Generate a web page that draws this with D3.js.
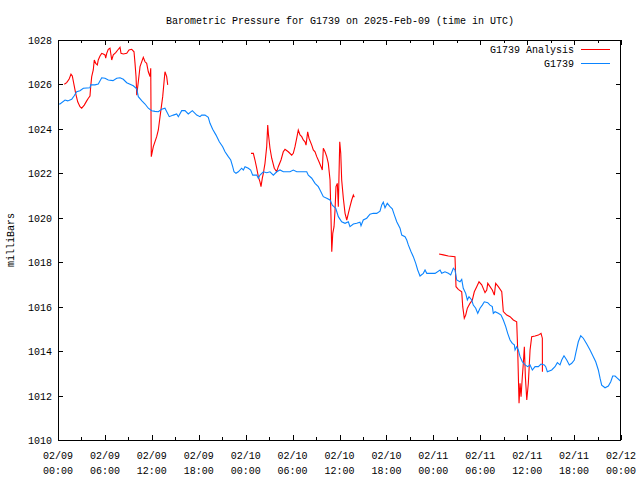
<!DOCTYPE html>
<html>
<head>
<meta charset="utf-8">
<script src="https://cdn.jsdelivr.net/npm/d3@7/dist/d3.min.js"></script>
<style>
  html, body { margin: 0; padding: 0; background: #fff; }
  svg text { font-family: "Liberation Mono", "DejaVu Sans Mono", monospace; font-size: 10px; fill: #000; }
</style>
</head>
<body>
<svg id="chart" width="640" height="480"></svg>
<script>
// ---- DATA (hours since 2025-02-09 00:00 UTC, pressure in mb) ----
const stationHours = [0,0.26,0.90,1.24,1.75,2.05,2.39,2.81,3.24,4.09,4.18,4.73,5.15,5.59,6.01,6.43,7.03,7.51,7.93,8.35,8.79,9.21,9.63,10.07,10.27,10.70,11.13,11.55,11.98,12.41,12.83,13.26,13.68,14.23,14.75,15.18,15.39,15.82,16.24,16.66,17.18,17.74,18.16,18.38,18.80,19.22,19.44,19.78,20.21,20.63,21.06,21.36,21.78,22.09,22.34,22.51,22.76,23.06,23.49,23.70,23.92,24.34,24.64,24.90,25.41,25.62,25.83,26.26,26.69,27.11,27.54,27.97,28.39,28.81,29.25,29.67,30.09,30.53,30.95,31.37,31.81,32.01,32.45,32.87,33.29,33.51,33.93,34.37,34.79,35.08,35.52,35.85,36.28,36.71,37.13,37.34,37.77,38.20,38.62,38.75,39.04,39.48,39.90,40.32,40.76,41.18,41.40,41.60,41.82,42.11,42.46,42.75,43.01,43.32,43.74,43.96,44.38,44.60,44.80,45.15,45.44,45.75,46.00,46.30,46.72,46.94,47.16,48.22,48.86,49.07,49.49,49.92,50.22,50.56,50.77,50.99,51.41,51.63,51.83,52.14,52.35,52.56,52.91,53.11,53.42,53.68,53.97,54.26,54.52,54.96,55.25,55.54,55.67,55.89,56.31,56.66,56.95,57.26,57.51,57.81,58.10,58.36,58.45,58.66,58.87,59.09,59.38,59.73,60.07,60.36,60.66,61.01,61.43,61.77,62.19,62.37,62.58,63.14,63.56,63.86,64.20,64.42,64.71,65.06,65.39,65.70,66.03,66.25,66.54,66.85,67.18,67.62,68.04,68.46,68.77,69.10,69.32,69.53,69.96,70.38,70.69,70.94,71.24,71.53,71.88,72.0];
const stationPressure = [1025.12,1025.12,1025.30,1025.26,1025.33,1025.48,1025.67,1025.72,1025.83,1025.85,1025.98,1025.98,1026.02,1026.30,1026.28,1026.20,1026.17,1026.28,1026.30,1026.23,1026.08,1026.01,1025.94,1025.80,1025.45,1025.27,1025.12,1024.93,1024.82,1024.79,1024.77,1024.88,1024.93,1024.55,1024.62,1024.67,1024.55,1024.82,1024.82,1024.67,1024.82,1024.62,1024.55,1024.62,1024.62,1024.52,1024.25,1023.98,1023.72,1023.42,1023.20,1022.97,1022.75,1022.60,1022.30,1022.07,1022.00,1022.07,1022.23,1022.15,1022.30,1022.23,1022.15,1021.92,1021.92,1021.78,1021.92,1022.07,1022.03,1022.07,1021.92,1022.07,1022.15,1022.07,1022.07,1022.07,1022.15,1022.07,1022.07,1022.07,1022.07,1021.92,1021.78,1021.55,1021.40,1021.25,1020.95,1020.88,1020.80,1020.57,1020.43,1020.05,1019.82,1019.75,1019.82,1019.60,1019.72,1019.75,1019.80,1019.64,1019.90,1019.98,1020.16,1020.20,1020.20,1020.30,1020.58,1020.70,1020.45,1020.65,1020.50,1020.40,1020.13,1019.82,1019.53,1019.22,1019.15,1019.00,1018.78,1018.47,1018.25,1017.95,1017.65,1017.38,1017.50,1017.65,1017.50,1017.50,1017.65,1017.50,1017.57,1017.50,1017.43,1017.73,1017.65,1017.20,1017.12,1017.23,1016.83,1016.60,1016.30,1016.45,1016.30,1016.07,1015.93,1015.70,1015.93,1016.07,1016.22,1016.18,1016.07,1016.00,1015.70,1015.77,1015.70,1015.62,1015.40,1015.10,1014.80,1014.50,1014.35,1014.28,1014.05,1014.20,1014.05,1013.75,1013.52,1013.38,1013.30,1013.38,1013.15,1013.30,1013.30,1013.42,1013.38,1013.30,1013.07,1013.15,1013.30,1013.48,1013.38,1013.60,1013.79,1013.60,1013.38,1013.45,1013.60,1013.97,1014.42,1014.69,1014.58,1014.32,1014.05,1013.75,1013.52,1013.15,1012.78,1012.47,1012.35,1012.43,1012.62,1012.88,1012.88,1012.78,1012.67,1012.65];

// Analysis series: null marks a gap between segments
const analysisHours = [0.81,1.11,1.41,1.66,1.83,2.05,2.26,2.52,2.81,3.03,3.36,3.67,3.88,4.09,4.18,4.31,4.51,4.64,4.82,5.03,5.15,5.37,5.59,5.79,6.01,6.10,6.23,6.43,6.65,6.87,7.07,7.38,7.64,7.93,8.06,8.35,8.79,9.08,9.43,9.72,9.85,9.98,10.07,10.27,10.49,10.91,11.13,11.34,11.55,11.77,11.86,11.93,12.19,12.62,12.83,13.05,13.39,13.68,13.90,14.03,
  null,
  24.68,24.98,25.19,25.41,25.62,25.83,25.96,26.13,26.26,26.47,26.69,26.82,26.90,27.11,27.33,27.66,27.97,28.17,28.52,28.81,29.03,29.45,29.89,30.09,30.31,30.53,30.73,30.95,31.17,31.37,31.59,31.72,31.93,32.10,32.45,32.65,32.87,33.09,33.38,33.64,33.80,33.93,34.15,34.37,34.57,34.79,34.92,35.01,35.14,35.30,35.43,35.55,35.72,35.85,36.03,36.16,36.28,36.49,36.71,36.93,37.13,37.34,37.56,37.77,37.89,
  null,
  48.73,49.28,49.92,50.77,50.90,51.19,51.63,51.76,51.96,52.14,52.35,52.69,52.99,53.24,53.55,53.84,54.19,54.61,54.83,54.96,55.25,55.54,55.80,55.97,56.31,56.75,56.95,57.39,57.81,58.23,58.66,58.79,58.96,59.09,59.22,59.38,59.51,59.64,59.77,59.95,60.15,60.37,60.58,61.01,61.43,61.77,61.94,61.95];
const analysisPressure = [1026.01,1026.08,1026.23,1026.46,1026.38,1025.98,1025.60,1025.22,1025.00,1024.93,1025.07,1025.26,1025.38,1025.48,1025.90,1026.35,1026.65,1027.10,1026.95,1026.88,1027.10,1027.28,1027.40,1027.37,1027.33,1027.18,1027.40,1027.58,1027.63,1027.10,1027.33,1027.43,1027.55,1027.67,1027.40,1027.37,1027.40,1027.55,1027.58,1027.47,1026.95,1026.35,1025.52,1026.12,1026.80,1027.22,1027.02,1026.95,1026.57,1026.35,1026.73,1022.75,1023.20,1023.65,1023.95,1024.55,1025.45,1026.57,1026.35,1025.98,
  null,
  1022.90,1022.90,1022.60,1022.23,1021.85,1021.62,1021.40,1021.78,1022.00,1022.45,1023.20,1024.17,1023.80,1023.13,1022.68,1022.23,1022.07,1022.30,1022.60,1022.97,1023.08,1022.97,1022.82,1022.90,1023.20,1023.58,1023.95,1023.73,1023.65,1023.50,1023.42,1023.27,1023.87,1023.58,1023.27,1023.05,1022.97,1022.75,1022.52,1022.30,1022.15,1023.13,1022.97,1022.75,1022.45,1021.70,1019.90,1018.47,1019.30,1019.60,1020.35,1021.40,1021.55,1020.50,1023.42,1022.90,1021.70,1020.88,1020.20,1019.90,1020.20,1020.50,1020.80,1021.02,1020.92,
  null,
  1018.37,1018.33,1018.28,1018.25,1016.90,1016.78,1016.67,1016.00,1015.48,1015.62,1015.93,1016.15,1016.30,1016.67,1016.90,1017.12,1016.98,1016.63,1016.75,1017.05,1016.90,1016.75,1016.52,1017.05,1016.90,1016.67,1015.78,1015.62,1015.55,1015.40,1015.32,1014.05,1011.65,1012.55,1011.95,1012.85,1013.45,1014.20,1012.85,1011.80,1012.55,1014.05,1014.65,1014.68,1014.72,1014.80,1014.58,1013.07];

const yTicks = [1010,1012,1014,1016,1018,1020,1022,1024,1026,1028];
const xTickHours = [0,6,12,18,24,30,36,42,48,54,60,66,72];
const xMinorHours = [3,9,15,21,27,33,39,45,51,57,63,69];
const seriesNames = ["G1739 Analysis", "G1739"];
const seriesColors = ["#ff0000", "#0a84ff"];
const titleText = "Barometric Pressure for G1739 on 2025-Feb-09 (time in UTC)";
const yLabelText = "milliBars";

// ---- CHART ----
const t0 = Date.UTC(2025, 1, 9, 0, 0, 0);
const toDate = h => new Date(t0 + h * 3600e3);

const margin = {left: 58, right: 19, top: 40, bottom: 40};
const W = 640, H = 480;
const svg = d3.select("#chart");

const x = d3.scaleUtc().domain([toDate(0), toDate(72)]).range([margin.left, W - margin.right]);
const y = d3.scaleLinear().domain([1010, 1028]).range([H - margin.bottom, margin.top]);

const px0 = margin.left, px1 = W - margin.right, py0 = margin.top, py1 = H - margin.bottom;

// clip
svg.append("defs").append("clipPath").attr("id", "clip")
  .append("rect").attr("x", px0).attr("y", py0).attr("width", px1 - px0).attr("height", py1 - py0);

// ticks (inward, mirrored on all sides)
const tickG = svg.append("g").attr("stroke", "#000").attr("stroke-width", 1).attr("shape-rendering", "crispEdges");
const majorLen = 5, minorLen = 3;
xTickHours.forEach(h => {
  const xx = Math.round(x(toDate(h))) + 0.5;
  tickG.append("line").attr("x1", xx).attr("x2", xx).attr("y1", py1).attr("y2", py1 - majorLen);
  tickG.append("line").attr("x1", xx).attr("x2", xx).attr("y1", py0).attr("y2", py0 + majorLen);
});
xMinorHours.forEach(h => {
  const xx = Math.round(x(toDate(h))) + 0.5;
  tickG.append("line").attr("x1", xx).attr("x2", xx).attr("y1", py1).attr("y2", py1 - minorLen);
  tickG.append("line").attr("x1", xx).attr("x2", xx).attr("y1", py0).attr("y2", py0 + minorLen);
});
yTicks.forEach(v => {
  const yy = Math.round(y(v)) + 0.5;
  tickG.append("line").attr("x1", px0).attr("x2", px0 + majorLen).attr("y1", yy).attr("y2", yy);
  tickG.append("line").attr("x1", px1).attr("x2", px1 - majorLen).attr("y1", yy).attr("y2", yy);
});

// y tick labels
svg.append("g").selectAll("text").data(yTicks).join("text")
  .attr("x", px0 - 6).attr("y", d => y(d) + 4).attr("text-anchor", "end").text(d => d);

// x tick labels (two lines)
const fmtDay = d3.utcFormat("%m/%d"), fmtTime = d3.utcFormat("%H:%M");
const xl = svg.append("g").selectAll("text").data(xTickHours).join("text")
  .attr("text-anchor", "middle");
xl.append("tspan").attr("x", d => x(toDate(d))).attr("y", py1 + 19).text(d => fmtDay(toDate(d)));
xl.append("tspan").attr("x", d => x(toDate(d))).attr("y", py1 + 34).text(d => fmtTime(toDate(d)));

// title and y label
svg.append("text").attr("x", (px0 + px1) / 2 + 0.5).attr("y", 24).attr("text-anchor", "middle").text(titleText);
svg.append("text").attr("transform", `translate(14,240) rotate(-90)`).attr("text-anchor", "middle").text(yLabelText);

// lines
const stationData = stationHours.map((h, i) => ({t: toDate(h), v: stationPressure[i]}));
const analysisData = analysisHours.map((h, i) => ({t: h == null ? null : toDate(h), v: analysisPressure[i]}));
const line = d3.line().defined(d => d.v != null && d.t != null).x(d => x(d.t)).y(d => y(d.v));

const plot = svg.append("g").attr("clip-path", "url(#clip)");
plot.append("path").datum(analysisData).attr("d", line)
  .attr("fill", "none").attr("stroke", seriesColors[0]).attr("stroke-width", 1.1);
plot.append("path").datum(stationData).attr("d", line)
  .attr("fill", "none").attr("stroke", seriesColors[1]).attr("stroke-width", 1.1);

// frame
svg.append("rect").attr("x", px0 + 0.5).attr("y", py0 + 0.5).attr("width", px1 - px0 - 1).attr("height", py1 - py0)
  .attr("fill", "none").attr("stroke", "#000").attr("shape-rendering", "crispEdges");

// legend
const leg = svg.append("g");
seriesNames.forEach((name, i) => {
  const ly = 49 + i * 14;
  leg.append("text").attr("x", 574).attr("y", ly + 4).attr("text-anchor", "end").text(name);
  leg.append("line").attr("x1", 581).attr("x2", 610).attr("y1", ly + 0.5).attr("y2", ly + 0.5)
    .attr("stroke", seriesColors[i]).attr("stroke-width", 1).attr("shape-rendering", "crispEdges");
});
</script>
</body>
</html>
